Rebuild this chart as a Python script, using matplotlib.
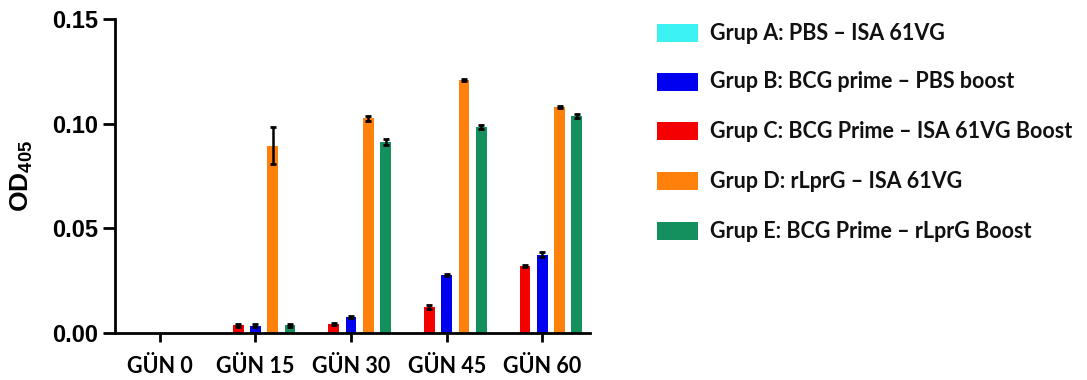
import numpy as np
import matplotlib
matplotlib.use("Agg")
import matplotlib.pyplot as plt
from matplotlib.patches import Rectangle

plt.rcParams["mathtext.fontset"] = "custom"
plt.rcParams["mathtext.rm"] = "Liberation Sans:bold"
plt.rcParams["mathtext.bf"] = "Liberation Sans:bold"

# Time points
days = ["GÜN 0", "GÜN 15", "GÜN 30", "GÜN 45", "GÜN 60"]

# Group names (legend order)
groups = [
    "Grup A: PBS – ISA 61VG",
    "Grup B: BCG prime – PBS boost",
    "Grup C: BCG Prime – ISA 61VG Boost",
    "Grup D: rLprG – ISA 61VG",
    "Grup E: BCG Prime – rLprG Boost",
]

# Mean OD405 per group and day
grup_a = [0.0, 0.0, 0.0, 0.0, 0.0]
grup_b = [0.0, 0.0035, 0.0077, 0.0277, 0.0373]
grup_c = [0.0, 0.0037, 0.0045, 0.0125, 0.0320]
grup_d = [0.0, 0.0895, 0.1025, 0.1210, 0.1080]
grup_e = [0.0, 0.0036, 0.0912, 0.0983, 0.1037]

# Error (SEM) per group and day
err_a = [0.0, 0.0, 0.0, 0.0, 0.0]
err_b = [0.0, 0.0006, 0.0006, 0.0006, 0.0012]
err_c = [0.0, 0.0008, 0.0005, 0.0010, 0.0006]
err_d = [0.0, 0.0090, 0.0010, 0.0005, 0.0005]
err_e = [0.0, 0.0006, 0.0015, 0.0010, 0.0010]

colors = ["#3CF2F2", "#0000F0", "#F50000", "#FF800A", "#13905E"]
means = [grup_a, grup_b, grup_c, grup_d, grup_e]
errs = [err_a, err_b, err_c, err_d, err_e]
# slot of each group inside a day cluster (A, C, B, D, E from left to right)
slots = [-2, 0, -1, 1, 2]

fig = plt.figure(figsize=(10.87, 3.80), dpi=100)
ax = fig.add_axes([115 / 1087, 1 - 333 / 380, (590 - 115) / 1087, (333 - 19) / 380])

x = np.arange(len(days))
step = 0.181
width = 0.112
for m, e, c, s in zip(means, errs, colors, slots):
    m = np.asarray(m)
    e = np.asarray(e)
    xs = x + s * step
    ax.bar(xs, m, width=width, color=c, edgecolor="none", zorder=2)
    mask = m > 0
    ax.errorbar(xs[mask], m[mask], yerr=e[mask], fmt="none", ecolor="black",
                elinewidth=1.8, capsize=2.4, capthick=2.0, zorder=3)

ax.set_xlim(-0.47, 4.50)
ax.set_ylim(0, 0.15)
ax.set_yticks([0.0, 0.05, 0.10, 0.15])
ax.set_yticklabels(["0.00", "0.05", "0.10", "0.15"],
                   fontfamily="Liberation Sans", fontweight="bold", fontsize=17)
ax.set_xticks(x)
ax.set_xticklabels(days, fontfamily="Lato", fontweight="bold", fontsize=15.5)

for side in ["top", "right"]:
    ax.spines[side].set_visible(False)
for side in ["left", "bottom"]:
    ax.spines[side].set_linewidth(2.0)
ax.tick_params(axis="y", length=8.5, width=2.0, pad=4)
ax.tick_params(axis="x", length=6.5, width=2.0, pad=10)

ax.set_ylabel(r"$\mathrm{OD}_{\mathrm{405}}$", fontsize=19, labelpad=12)

# Legend drawn as colour swatches with labels on the right
row_y = [33, 82, 131, 181, 231]
for name, c, ry in zip(groups, colors, row_y):
    fig.patches.append(Rectangle((657 / 1087, 1 - (ry + 9) / 380), 41 / 1087, 18 / 380,
                                 transform=fig.transFigure, facecolor=c,
                                 edgecolor="none"))
    fig.text(710 / 1087, 1 - ry / 380, name, fontfamily="Lato", fontweight="bold",
             fontsize=15.5, va="center", ha="left", color="#111111")

fig.savefig("out.png", dpi=100)
